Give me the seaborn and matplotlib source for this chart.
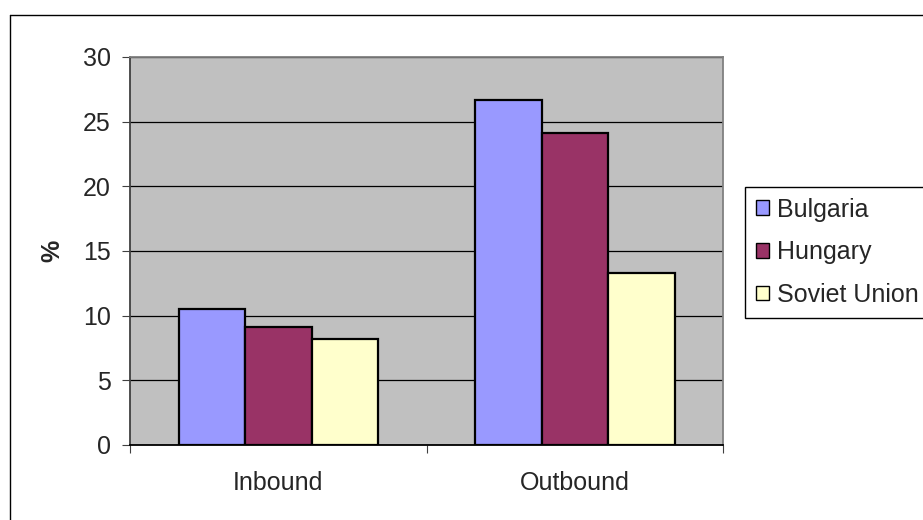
import matplotlib
matplotlib.use("Agg")
import matplotlib.pyplot as plt
from matplotlib.lines import Line2D
from matplotlib.patches import Patch
import seaborn as sns
import pandas as pd

# Share of trade (%) by direction and partner country
directions = ["Inbound", "Outbound"]
countries = ["Bulgaria", "Hungary", "Soviet Union"]
bulgaria = [10.5, 26.7]
hungary = [9.1, 24.1]
soviet_union = [8.2, 13.3]
y_ticks = [0, 5, 10, 15, 20, 25, 30]

colors = ["#9999FF", "#993366", "#FFFFCC"]

df = pd.DataFrame({
    "direction": directions * 3,
    "country": [c for c in countries for _ in directions],
    "value": bulgaria + hungary + soviet_union,
})

sns.set_style("white")
plt.rcParams["font.family"] = ["Liberation Sans", "DejaVu Sans"]

FS = 18

fig = plt.figure(figsize=(9.23, 5.2), dpi=100)
ax = fig.add_axes([130 / 923, 1 - 445 / 520, (723.3 - 130) / 923, (445 - 57) / 520])
ax.set_facecolor("#C0C0C0")

sns.barplot(data=df, x="direction", y="value", hue="country",
            hue_order=countries, order=directions, palette=colors,
            width=0.673, edgecolor="black", linewidth=1.6, saturation=1,
            legend=False, ax=ax, zorder=3)

ax.set_xlim(-0.5, 1.5)
ax.set_ylim(0, 30)
ax.set_yticks(y_ticks)
ax.yaxis.grid(True, color="black", linewidth=0.9, zorder=1)
ax.set_axisbelow(True)

ax.set_xlabel("")
ax.set_ylabel("%", fontsize=FS, fontweight="bold", labelpad=13)

ax.tick_params(axis="y", direction="out", length=6, width=0.8, color="#404040",
               pad=8, labelsize=FS, left=True)
ax.tick_params(axis="x", which="major", length=0, pad=19, labelsize=FS)
ax.set_xticks([-0.5, 0.5, 1.5], minor=True)
ax.tick_params(axis="x", which="minor", direction="out", length=6, width=0.8,
               color="#404040", bottom=True)

for side, col in (("left", "#404040"), ("bottom", "black"),
                  ("top", "#808080"), ("right", "#808080")):
    ax.spines[side].set_visible(True)
    ax.spines[side].set_color(col)
    ax.spines[side].set_linewidth(1.3)

handles = [Patch(facecolor=c, edgecolor="black", linewidth=1.0) for c in colors]
leg = fig.legend(handles, countries, loc="upper left",
                 bbox_to_anchor=(745 / 923, 1 - 187 / 520),
                 fontsize=FS, frameon=True, fancybox=False, framealpha=1,
                 edgecolor="black", handlelength=0.52, handleheight=0.52,
                 handletextpad=0.33, borderpad=0.42, labelspacing=0.75,
                 borderaxespad=0)
leg.get_frame().set_linewidth(1.0)

# Chart area border (runs past the right and bottom edges)
fig.add_artist(Line2D([10 / 923, 1.0], [1 - 15 / 520] * 2, color="black",
                      linewidth=1.0, transform=fig.transFigure))
fig.add_artist(Line2D([10 / 923] * 2, [0.0, 1 - 15 / 520], color="black",
                      linewidth=1.0, transform=fig.transFigure))

fig.savefig("out.png", dpi=100)
